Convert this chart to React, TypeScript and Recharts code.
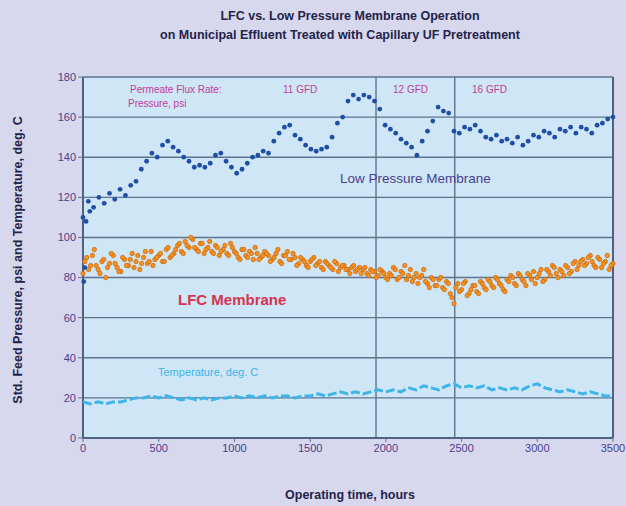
import React from "react";
import { ScatterChart, Scatter, XAxis, YAxis, CartesianGrid, ReferenceLine } from "recharts";

// Low pressure membrane feed pressure (psi), sampled every 35 h from 0 to 3500
const lowPressureStep = 35;
const lowPressure = [
  110, 118, 115, 120, 117, 122, 119, 124, 121, 126,
  128, 134, 138, 142, 140, 146, 148, 145, 143, 140,
  138, 135, 136, 135, 137, 141, 142, 138, 135, 132,
  134, 137, 140, 141, 143, 142, 148, 152, 155, 156,
  151, 149, 146, 144, 143, 144, 145, 150, 157, 160,
  168, 171, 169, 171, 170, 168, 164, 156, 154, 152,
  149, 147, 145, 141, 148, 153, 158, 165, 163, 162,
  153, 152, 155, 154, 156, 153, 150, 149, 151, 148,
  149, 147, 150, 146, 148, 151, 150, 153, 152, 150,
  154, 153, 155, 152, 155, 154, 152, 156, 157, 159,
  160,
];
const lowPressureExtraHours = [5, 12, 20, 45];
const lowPressureExtra = [78, 85, 108, 113];

// LFC membrane feed pressure (psi), sampled every 25 h from 0 to 3500
const lfcStep = 25;
const lfc = [
  82, 90, 86, 94, 84, 88, 80, 87, 91, 85, 83, 89, 86, 92, 88, 84, 90, 87, 93, 89,
  91, 88, 94, 90, 92, 96, 93, 98, 95, 99, 94, 97, 92, 95, 93, 96, 91, 94, 92, 97,
  93, 90, 94, 91, 93, 89, 92, 90, 93, 91, 89, 92, 88, 91, 93, 89, 90, 87, 89, 86,
  88, 90, 87, 85, 88, 86, 84, 87, 85, 86, 84, 85, 83, 85, 84, 82, 84, 83, 81, 83,
  80, 82, 85, 79, 83, 86, 81, 78, 82, 80, 84, 77, 80, 76, 79, 75, 78, 72, 67, 77,
  74, 78, 72, 76, 73, 78, 75, 79, 76, 80, 77, 74, 79, 81, 77, 82, 79, 76, 81, 83,
  80, 84, 79, 83, 86, 82, 84, 81, 85, 83, 88, 86, 89, 87, 91, 86, 90, 85, 88, 84,
  87,
];
// Second set of LFC readings, taken midway between the first (from 12 h, every 25 h)
const lfcBStart = 12;
const lfcB = [
  88, 84, 91, 86, 82, 89, 85, 92, 87, 83, 90, 86,
  89, 85, 91, 87, 93, 88, 86, 90, 92, 88, 95, 91,
  94, 97, 92, 96, 100, 95, 93, 97, 94, 98, 92, 95,
  93, 96, 91, 95, 92, 89, 94, 90, 92, 95, 89, 91,
  92, 88, 90, 94, 87, 91, 89, 92, 86, 90, 88, 85,
  89, 86, 88, 84, 87, 85, 88, 83, 86, 84, 82, 86,
  84, 82, 85, 81, 83, 80, 84, 82, 79, 81, 84, 80,
  82, 79, 84, 80, 77, 81, 78, 75, 79, 76, 80, 74,
  77, 70, 75, 73, 77, 71, 74, 76, 72, 77, 74, 78,
  75, 79, 76, 73, 78, 80, 76, 81, 78, 82, 79, 77,
  82, 78, 84, 81, 85, 80, 83, 86, 82, 87, 84, 88,
  86, 90, 88, 85, 89, 87, 91, 86,
];

// Temperature (deg. C), sampled every 50 h from 0 to 3500
const tempStep = 50;
const temperature = [
  18, 17, 18, 17, 18, 18, 19, 20, 20, 21,
  20, 21, 20, 19, 20, 19, 20, 19, 20, 20,
  21, 20, 21, 20, 21, 20, 21, 21, 20, 21,
  21, 22, 21, 22, 23, 22, 23, 22, 23, 24,
  23, 24, 23, 25, 24, 26, 25, 24, 26, 27,
  25, 26, 25, 26, 24, 25, 24, 25, 24, 26,
  27, 25, 24, 23, 24, 23, 22, 23, 22, 21,
  21,
];

const xTicks = [0, 500, 1000, 1500, 2000, 2500, 3000, 3500];
const yTicks = [0, 20, 40, 60, 80, 100, 120, 140, 160, 180];
const phaseChanges = [1935, 2455];

const toPoints = (vals: number[], step: number, start = 0) =>
  vals.map((v, i) => ({ h: start + i * step, v }));

const lowPressureData = [
  ...lowPressureExtraHours.map((h, i) => ({ h, v: lowPressureExtra[i] })),
  ...toPoints(lowPressure, lowPressureStep),
];
const lfcData = [...toPoints(lfc, lfcStep), ...toPoints(lfcB, lfcStep, lfcBStart)];
const tempData = toPoints(temperature, tempStep);

const FONT = "'Liberation Sans', Arial, sans-serif";

const BlueDot = (p: any) => <circle cx={p.cx} cy={p.cy} r={2.4} fill="#1f4ea6" />;
const OrangeDot = (p: any) => (
  <circle cx={p.cx} cy={p.cy} r={2.2} fill="#f5921e" stroke="#c9650c" strokeWidth={0.7} />
);
const NoDot = () => <g />;

export default function App() {
  return (
    <div
      style={{
        position: "absolute",
        left: 0,
        top: 0,
        width: 626,
        height: 506,
        background: "#d7d8ee",
        fontFamily: FONT,
      }}
    >
      <ScatterChart width={626} height={506} margin={{ top: 77, right: 13, left: 0, bottom: 38 }}>
        <CartesianGrid
          vertical={false}
          stroke="#5d7390"
          strokeWidth={1.4}
          fill="#cfe6f6"
          fillOpacity={1}
        />
        <XAxis
          dataKey="h"
          type="number"
          domain={[0, 3500]}
          ticks={xTicks}
          interval={0}
          height={30}
          tick={{ fill: "#4b3d8c", fontSize: 11, fontFamily: FONT }}
          tickLine={{ stroke: "#5d7390" }}
          tickSize={4}
          axisLine={{ stroke: "#4d6480", strokeWidth: 2 }}
        />
        <YAxis
          dataKey="v"
          type="number"
          domain={[0, 180]}
          ticks={yTicks}
          interval={0}
          width={83}
          tick={{ fill: "#4b3d8c", fontSize: 11, fontFamily: FONT }}
          tickLine={{ stroke: "#5d7390" }}
          tickSize={5}
          axisLine={{ stroke: "#4d6480", strokeWidth: 2 }}
        />
        {phaseChanges.map((x) => (
          <ReferenceLine key={x} x={x} stroke="#5d7390" strokeWidth={1.4} />
        ))}
        <ReferenceLine x={3500} stroke="#4d6480" strokeWidth={2} />
        <Scatter
          data={tempData}
          fill="#3db4ea"
          shape={NoDot}
          line={{ stroke: "#3db4ea", strokeWidth: 3, strokeDasharray: "9 3" }}
          isAnimationActive={false}
        />
        <Scatter data={lfcData} shape={OrangeDot} isAnimationActive={false} />
        <Scatter data={lowPressureData} shape={BlueDot} isAnimationActive={false} />
      </ScatterChart>
      <svg
        width={626}
        height={506}
        style={{ position: "absolute", left: 0, top: 0, pointerEvents: "none" }}
        fontFamily={FONT}
      >
        <text x={350} y={20} textAnchor="middle" fontSize={12.5} fontWeight="bold" fill="#23234a">
          LFC vs. Low Pressure Membrane Operation
        </text>
        <text x={340} y={39} textAnchor="middle" fontSize={12.5} fontWeight="bold" fill="#23234a">
          on Municipal Effluent Treated with Capillary UF Pretreatment
        </text>
        <text
          x={0}
          y={0}
          transform="translate(22,260) rotate(-90)"
          textAnchor="middle"
          fontSize={12.5}
          fontWeight="bold"
          fill="#23234a"
        >
          Std. Feed Pressure, psi and Temperature, deg. C
        </text>
        <text x={350} y={499} textAnchor="middle" fontSize={12.5} fontWeight="bold" fill="#23234a">
          Operating time, hours
        </text>
        <text x={130} y={93} fontSize={10} fill="#c2399a">Permeate Flux Rate:</text>
        <text x={128} y={107} fontSize={10} fill="#c2399a">Pressure, psi</text>
        <text x={283} y={93} fontSize={10} fill="#c2399a">11 GFD</text>
        <text x={393} y={93} fontSize={10} fill="#c2399a">12 GFD</text>
        <text x={472} y={93} fontSize={10} fill="#c2399a">16 GFD</text>
        <text x={340} y={183} fontSize={13.5} fill="#4b3d8c">Low Pressure Membrane</text>
        <text x={178} y={305} fontSize={15} fontWeight="bold" fill="#d4344e">LFC Membrane</text>
        <text x={158} y={376} fontSize={11} fill="#3db4ea">Temperature, deg. C</text>
      </svg>
    </div>
  );
}
